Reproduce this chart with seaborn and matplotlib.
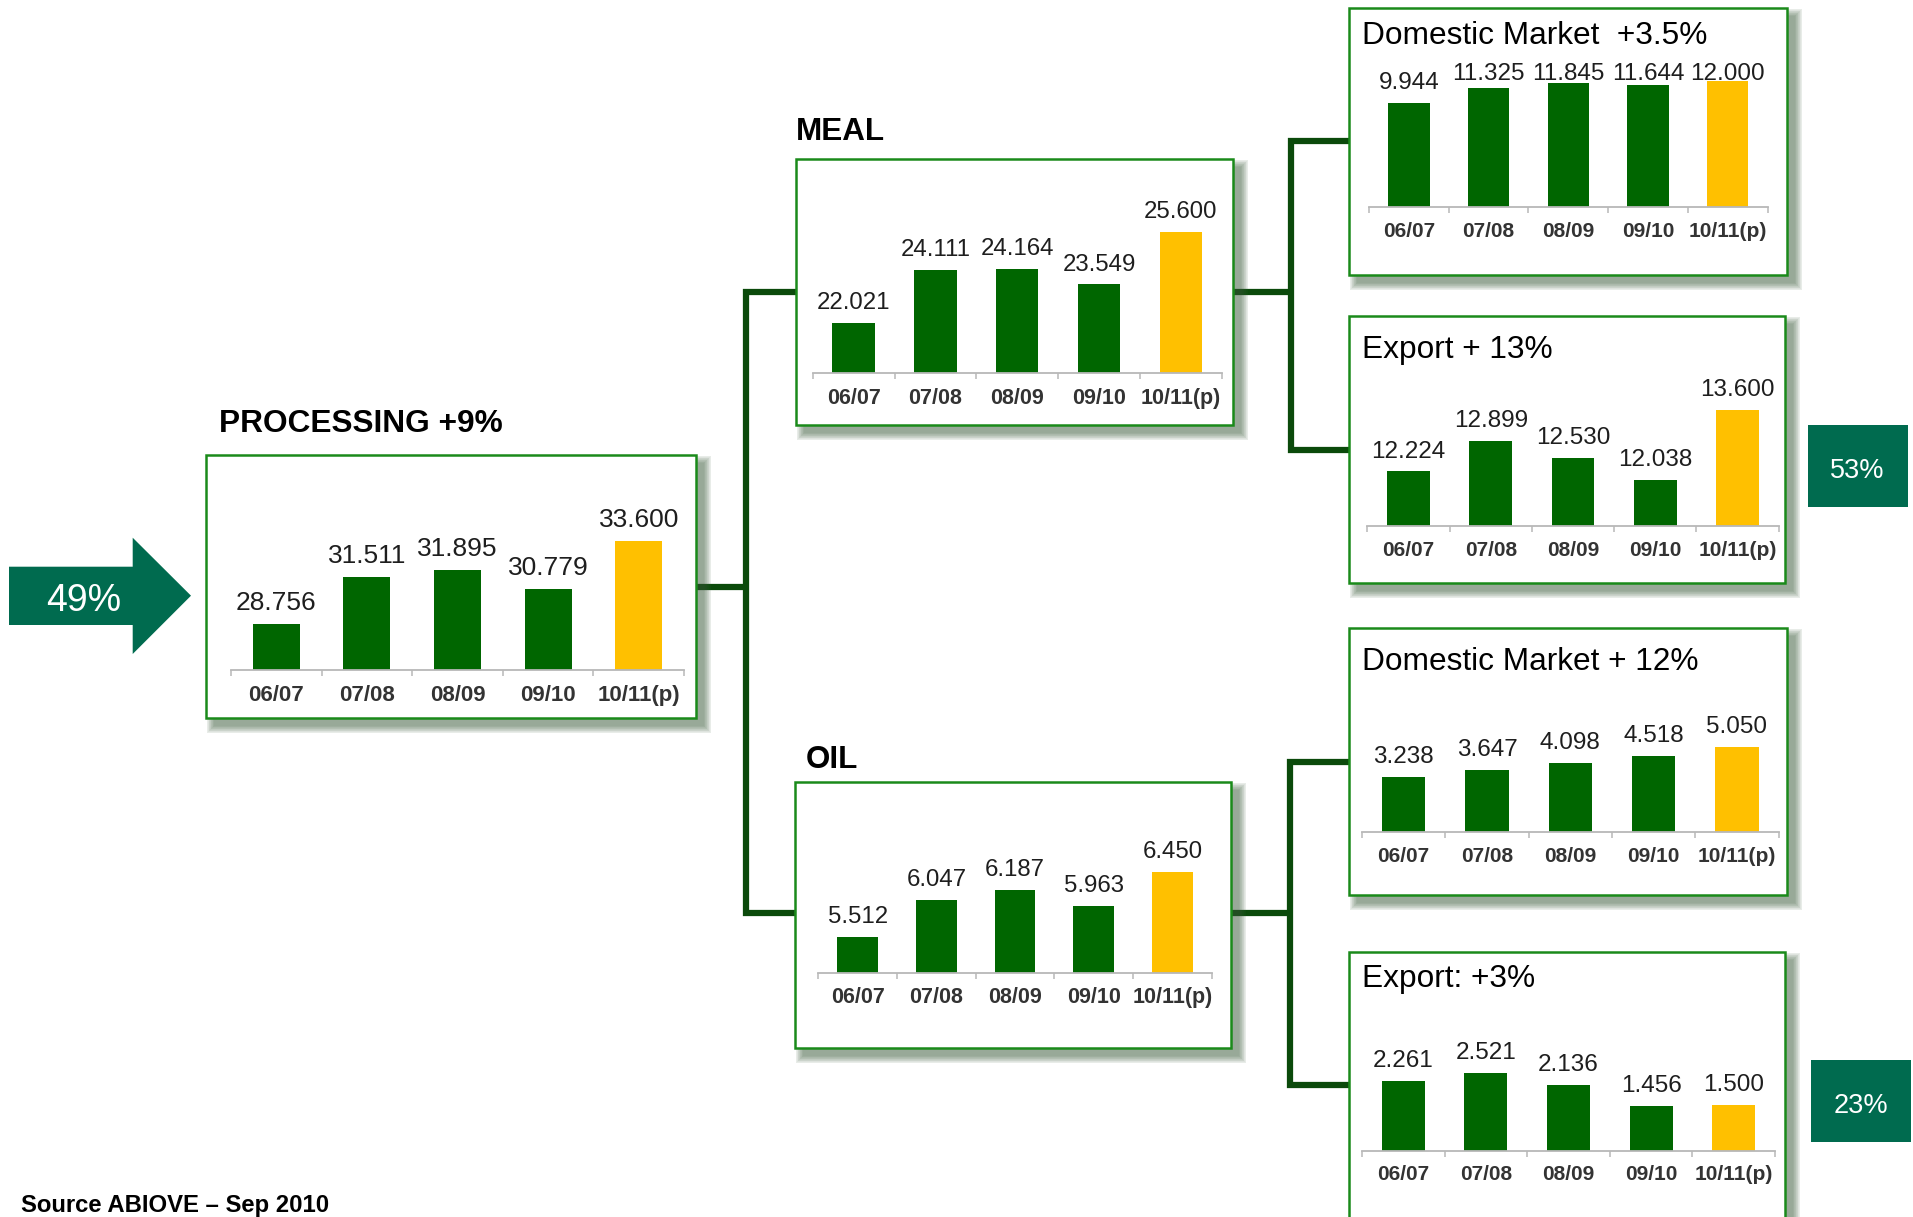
import numpy as np
import matplotlib
matplotlib.use("Agg")
import matplotlib.pyplot as plt
from matplotlib.patches import Rectangle, Polygon
import seaborn as sns

# ---- data (thousand tonnes, Brazilian number format) ----
seasons = ["06/07", "07/08", "08/09", "09/10", "10/11(p)"]
processing = [28.756, 31.511, 31.895, 30.779, 33.600]
meal = [22.021, 24.111, 24.164, 23.549, 25.600]
oil = [5.512, 6.047, 6.187, 5.963, 6.450]
meal_domestic = [9.944, 11.325, 11.845, 11.644, 12.000]
meal_export = [12.224, 12.899, 12.530, 12.038, 13.600]
oil_domestic = [3.238, 3.647, 4.098, 4.518, 5.050]
oil_export = [2.261, 2.521, 2.136, 1.456, 1.500]

title_processing = "PROCESSING +9%"
title_meal = "MEAL"
title_oil = "OIL"
title_meal_domestic = "Domestic Market  +3.5%"
title_meal_export = "Export + 13%"
title_oil_domestic = "Domestic Market + 12%"
title_oil_export = "Export: +3%"
share_in = "49%"
share_meal_export = "53%"
share_oil_export = "23%"
source_note = "Source ABIOVE \u2013 Sep 2010"

# ---- style ----
sns.set_theme(style="white")
plt.rcParams["font.family"] = ["Liberation Sans", "DejaVu Sans"]

GREEN_BAR = "#006600"
YELLOW_BAR = "#FFC000"
BORDER = "#1a8a1a"
LINK = "#0b4a0b"
TEAL = "#006b4f"
SHADOW = "#3f5f3f"
bar_colors = [GREEN_BAR] * 4 + [YELLOW_BAR]

W, H = 1913, 1217
fig = plt.figure(figsize=(W / 100, H / 100), dpi=100)
bg = fig.add_axes([0, 0, 1, 1])
bg.set_xlim(0, W)
bg.set_ylim(H, 0)
bg.axis("off")


def framed_box(x0, y0, x1, y1):
    """White box with green border and a soft drop shadow (pixel coords)."""
    n, blur, dx, dy = 12, 8.0, 8, 8
    for k in range(n):
        p = k * blur / n
        bg.add_patch(Rectangle((x0 + dx - p, y0 + dy - p), (x1 - x0) + 2 * p,
                               (y1 - y0) + 2 * p, facecolor=SHADOW,
                               edgecolor="none", alpha=0.06, zorder=2))
    bg.add_patch(Rectangle((x0, y0), x1 - x0, y1 - y0, facecolor="white",
                           edgecolor=BORDER, lw=1.8, zorder=3))


def link(xs, ys):
    bg.plot(xs, ys, color=LINK, lw=4.5, solid_joinstyle="miter",
            solid_capstyle="butt", zorder=1)


# connectors
link([696, 746], [587, 587])
link([796, 746, 746, 795], [291.7, 291.7, 913, 913])
link([1233, 1291], [291.7, 291.7])
link([1349, 1291, 1291, 1349], [140.5, 140.5, 450, 450])
link([1231, 1290], [913, 913])
link([1349, 1290, 1290, 1349], [762, 762, 1084.5, 1084.5])

# boxes
framed_box(206, 455, 696, 718)
framed_box(796, 159, 1233, 425)
framed_box(795, 782, 1231, 1048)
framed_box(1349, 8, 1787, 275)
framed_box(1349, 316, 1785, 583)
framed_box(1349, 628, 1787, 895)
framed_box(1349, 952, 1785, 1245)

# section titles
bg.text(219, 432, title_processing, fontsize=22.8, fontweight="bold",
        ha="left", va="baseline", color="black", zorder=5)
bg.text(796, 140, title_meal, fontsize=22.6, fontweight="bold",
        ha="left", va="baseline", color="black", zorder=5)
bg.text(806, 768, title_oil, fontsize=22.6, fontweight="bold",
        ha="left", va="baseline", color="black", zorder=5)
for ty, txt in [(43.5, title_meal_domestic), (357.7, title_meal_export),
                (670, title_oil_domestic), (986.7, title_oil_export)]:
    bg.text(1362, ty, txt, fontsize=22.8, ha="left", va="baseline",
            color="black", zorder=5)

# share markers
bg.add_patch(Polygon([(9, 566.7), (132.7, 566.7), (132.7, 537.7), (191, 595.7),
                      (132.7, 654), (132.7, 625), (9, 625)],
                     closed=True, facecolor=TEAL, edgecolor="none", zorder=4))
bg.text(84, 611, share_in, fontsize=27, color="white", ha="center",
        va="baseline", zorder=5)
bg.add_patch(Rectangle((1808, 425), 99.5, 81.7, facecolor=TEAL,
                       edgecolor="none", zorder=4))
bg.text(1857, 477.5, share_meal_export, fontsize=19.5, color="white",
        ha="center", va="baseline", zorder=5)
bg.add_patch(Rectangle((1810.6, 1060), 100.2, 81.7, facecolor=TEAL,
                       edgecolor="none", zorder=4))
bg.text(1860.7, 1113, share_oil_export, fontsize=19.5, color="white",
        ha="center", va="baseline", zorder=5)

bg.text(21, 1212, source_note, fontsize=17.2, fontweight="bold",
        ha="left", va="baseline", color="black", zorder=5)


def bar_panel(values, left, right, base, px_per_unit, floor,
              value_size, tick_size, label_ceiling=None, height_px=175):
    ax = fig.add_axes([left / W, 1 - base / H, (right - left) / W, height_px / H])
    ax.patch.set_visible(False)
    sns.barplot(x=seasons, y=values, hue=seasons, palette=bar_colors,
                legend=False, dodge=False, width=0.52, saturation=1,
                edgecolor="none", ax=ax)
    ax.set_xlim(-0.5, len(seasons) - 0.5)
    ax.set_ylim(floor, floor + height_px / px_per_unit)
    ax.set_xlabel("")
    ax.set_ylabel("")
    ax.set_yticks([])
    for s in ["left", "right", "top"]:
        ax.spines[s].set_visible(False)
    ax.spines["bottom"].set_color("#b8b8b8")
    ax.spines["bottom"].set_linewidth(1.3)
    ax.set_xticks(range(len(seasons)))
    ax.set_xticklabels(seasons, fontsize=tick_size, fontweight="bold",
                       color="#333333")
    ax.set_xticks(np.arange(-0.5, len(seasons), 1.0), minor=True)
    ax.tick_params(axis="x", which="major", length=0, pad=10.5)
    ax.tick_params(axis="x", which="minor", length=4, width=1.1,
                   color="#b8b8b8", direction="out", bottom=True)
    for i, v in enumerate(values):
        anchor = v if label_ceiling is None else min(v, label_ceiling)
        ax.annotate(f"{v:.3f}", (i, anchor), xytext=(0, 10),
                    textcoords="offset points", ha="center", va="baseline",
                    fontsize=value_size, color="#1e1e1e", annotation_clip=False)
    return ax


bar_panel(processing, 231, 684, 670, 17.2, 26.08, 19, 16)
bar_panel(meal, 812.7, 1221.7, 373.3, 25.4, 20.05, 17.3, 15.5)
bar_panel(oil, 818.3, 1211.7, 972.7, 69.6, 5.0, 17.3, 15.5)
bar_panel(meal_domestic, 1369, 1767.5, 207.3, 10.5, 0.0, 17.5, 15,
          label_ceiling=10.8)
bar_panel(meal_export, 1367.4, 1778.5, 526, 44.56, 11.0, 17.5, 15)
bar_panel(oil_domestic, 1362, 1778.5, 832, 16.9, 0.0, 17.5, 15)
bar_panel(oil_export, 1362, 1775, 1150.7, 30.7, 0.0, 17.5, 15)

fig.savefig("out.png", dpi=100)
